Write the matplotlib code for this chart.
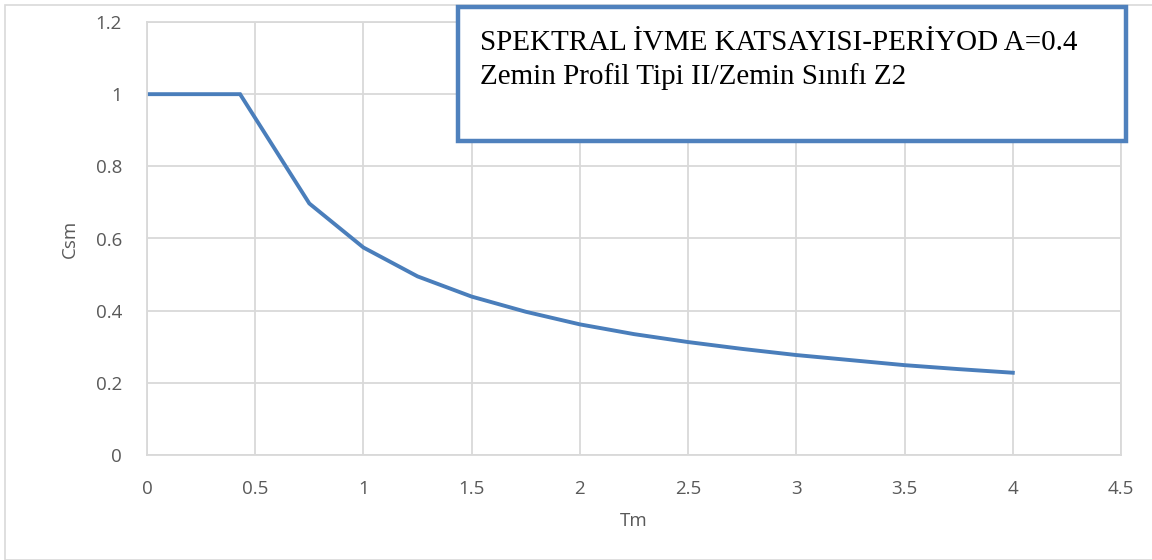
import matplotlib.pyplot as plt
from matplotlib.patches import Rectangle

# period (Tm) and spectral acceleration coefficient (Csm)
tm = [0, 0.43, 0.75, 1.0, 1.25, 1.5, 1.75, 2.0, 2.25, 2.5, 2.75, 3.0, 3.25, 3.5, 3.75, 4.0]
csm = [1.0, 1.0, 0.697, 0.575, 0.495, 0.439, 0.397, 0.362, 0.335, 0.313, 0.294, 0.277, 0.263, 0.249, 0.238, 0.228]

xticks = [0, 0.5, 1, 1.5, 2, 2.5, 3, 3.5, 4, 4.5]
xlabels = ['0', '0.5', '1', '1.5', '2', '2.5', '3', '3.5', '4', '4.5']
yticks = [0, 0.2, 0.4, 0.6, 0.8, 1.0, 1.2]
ylabels = ['0', '0.2', '0.4', '0.6', '0.8', '1', '1.2']

title_lines = ['SPEKTRAL İVME KATSAYISI-PERİYOD A=0.4',
               'Zemin Profil Tipi II/Zemin Sınıfı Z2']

grid_c = '#d9d9d9'
txt_c = '#595959'
line_c = '#4a7ebb'

plt.rcParams['font.family'] = ['Open Sans', 'DejaVu Sans']

fig = plt.figure(figsize=(11.52, 5.6), dpi=100)
ax = fig.add_axes([147/1152, 105/560, 974/1152, 433/560])

ax.plot(tm, csm, color=line_c, lw=2.8, solid_joinstyle='miter')

ax.set_xlim(0, 4.5)
ax.set_ylim(0, 1.2)
ax.set_xticks(xticks, xlabels)
ax.set_yticks(yticks, ylabels)
ax.grid(True, color=grid_c, lw=1.3)
ax.tick_params(length=0, labelsize=13.5, labelcolor=txt_c)
ax.tick_params(axis='x', pad=18)
ax.tick_params(axis='y', pad=18)
for s in ax.spines.values():
    s.set_color(grid_c)
    s.set_linewidth(1.3)

ax.set_xlabel('Tm', fontsize=13.5, color=txt_c, labelpad=10)
ax.set_ylabel('Csm', fontsize=13.5, color=txt_c, labelpad=12)

# outer chart border
fig.patches.append(Rectangle((5/1152, 0), 1150/1152, 555/560, transform=fig.transFigure,
                             fill=False, ec=grid_c, lw=1.2))

# text box
fig.patches.append(Rectangle((458/1152, (560-141)/560), 668/1152, 134/560,
                             transform=fig.transFigure, fc='white', ec='#4f81bd', lw=3.2,
                             zorder=5))
fig.text(480/1152, (560-50)/560, title_lines[0], fontsize=21, family='Liberation Serif',
         va='baseline', zorder=6)
fig.text(480/1152, (560-84)/560, title_lines[1], fontsize=21, family='Liberation Serif',
         va='baseline', zorder=6)

fig.savefig('out.png', dpi=100)
